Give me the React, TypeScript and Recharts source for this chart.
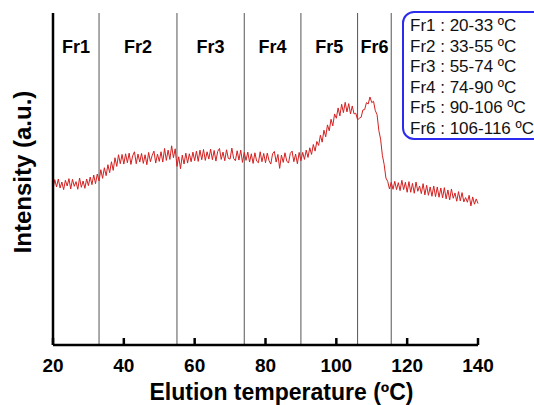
import React from "react";
import {
    LineChart,
    Line,
    XAxis,
    YAxis,
    ReferenceLine,
    ReferenceArea,
} from "recharts";

// intensity (a.u.) sampled every 0.5 ºC from 20 to 140 ºC
const intensity = [
    47.1, 49.8, 47.6, 50.0, 47.3, 49.1, 46.8, 49.6, 47.9, 50.1,
    47.0, 49.9, 47.8, 49.2, 46.9, 50.3, 47.5, 49.4, 47.2, 50.0,
    48.0, 50.6, 48.3, 51.2, 48.6, 51.5, 49.4, 52.8, 50.2, 53.4,
    51.0, 54.3, 51.9, 55.2, 52.6, 56.4, 53.8, 57.3, 54.6, 57.4,
    54.5, 57.6, 54.9, 57.8, 54.4, 57.0, 58.2, 54.6, 57.5, 55.1,
    57.7, 54.7, 57.3, 54.3, 58.0, 55.2, 57.1, 58.4, 54.8, 57.5,
    55.3, 58.2, 55.1, 59.2, 55.6, 58.7, 55.9, 60.0, 56.4, 59.1,
    53.8, 56.7, 53.1, 57.2, 54.5, 57.8, 54.8, 57.6, 55.2, 58.1,
    55.5, 58.4, 55.3, 58.7, 55.8, 58.9, 55.6, 58.2, 56.0, 59.0,
    55.8, 58.6, 55.4, 58.3, 59.2, 55.9, 58.1, 55.5, 58.8, 56.2,
    56.0, 59.3, 56.2, 55.5, 58.5, 55.7, 58.7, 55.0, 58.0, 55.6,
    58.1, 55.1, 57.6, 54.7, 57.9, 55.4, 54.9, 58.2, 55.2, 57.7,
    54.9, 57.8, 55.5, 54.5, 57.6, 58.3, 55.1, 57.4, 53.2, 57.2,
    55.0, 57.9, 55.4, 54.8, 57.7, 58.4, 55.2, 57.5, 54.6, 58.0,
    55.5, 58.0, 55.9, 58.7, 56.5, 59.4, 57.4, 60.4, 58.4, 61.3,
    60.1, 63.2, 61.1, 64.7, 62.7, 66.3, 64.5, 68.0, 66.0, 69.6,
    68.3, 71.4, 69.0, 72.5, 70.0, 73.1, 70.2, 72.7, 69.6, 72.0,
    69.6, 69.8, 67.8, 68.3, 68.6, 70.8, 70.9, 73.0, 72.6, 74.7,
    73.0, 73.4, 70.6, 69.4, 64.6, 62.0, 57.1, 54.4, 50.3, 49.3,
    47.0, 49.0, 46.9, 49.3, 46.8, 48.9, 46.5, 49.6, 46.8, 49.0,
    46.0, 49.2, 46.0, 48.7, 45.7, 49.1, 46.3, 47.9, 45.6, 48.6,
    45.2, 48.1, 45.1, 47.6, 44.8, 47.9, 44.7, 47.6, 44.5, 47.3,
    44.3, 47.4, 44.0, 46.7, 43.7, 47.0, 44.2, 45.8, 43.3, 46.2,
    43.4, 45.9, 43.1, 44.4, 43.0, 45.1, 41.9, 44.6, 42.4, 44.0,
    42.6,
];

const temps = intensity.map((_, i) => 20 + i * 0.5);

const xTicks = [20, 40, 60, 80, 100, 120, 140];

const fractions = ["Fr1", "Fr2", "Fr3", "Fr4", "Fr5", "Fr6"];
const fractionStart = [20, 33, 55, 74, 90, 106];
const fractionEnd = [33, 55, 74, 90, 106, 115.5];
const boundaries = [33, 55, 74, 90, 106, 115.5];

const legendLines = [
    "Fr1 : 20-33 ºC",
    "Fr2 : 33-55 ºC",
    "Fr3 : 55-74 ºC",
    "Fr4 : 74-90 ºC",
    "Fr5 : 90-106 ºC",
    "Fr6 : 106-116 ºC",
];

const data = intensity.map((v, i) => ({ temp: temps[i], intensity: v }));

const FONT = "'Liberation Sans', Arial, sans-serif";

const XTick = (props: any) => {
    const { x, y, payload } = props;
    return (
        <g>
            <line x1={x} y1={y} x2={x} y2={y - 7} stroke="#000" strokeWidth={2.5} />
            <text
                x={x}
                y={y + 27}
                textAnchor="middle"
                fontSize={19}
                fontWeight="bold"
                fontFamily={FONT}
                fill="#000"
            >
                {payload.value}
            </text>
        </g>
    );
};

const App = () => {
    return (
        <div
            style={{
                position: "absolute",
                left: 0,
                top: 0,
                width: 534,
                height: 405,
                background: "#fff",
                overflow: "hidden",
            }}
        >
            <LineChart
                width={534}
                height={405}
                data={data}
                margin={{ top: 13, right: 56, left: 0, bottom: 0 }}
            >
                <XAxis
                    dataKey="temp"
                    type="number"
                    domain={[20, 140]}
                    ticks={xTicks}
                    interval={0}
                    height={60}
                    tickSize={0}
                    tickMargin={0}
                    tickLine={false}
                    tick={<XTick />}
                    axisLine={{ stroke: "#000", strokeWidth: 2.5 }}
                    label={{
                        value: "Elution temperature (ºC)",
                        position: "center",
                        dx: 16,
                        dy: 17,
                        style: {
                            fontSize: 23,
                            fontWeight: "bold",
                            fontFamily: FONT,
                            fill: "#000",
                        },
                    }}
                />
                <YAxis
                    type="number"
                    domain={[0, 100]}
                    width={53}
                    tick={false}
                    tickLine={false}
                    axisLine={{ stroke: "#000", strokeWidth: 2.5 }}
                    label={{
                        value: "Intensity (a.u.)",
                        angle: -90,
                        position: "center",
                        dx: -4,
                        dy: -7,
                        style: {
                            fontSize: 24,
                            fontWeight: "bold",
                            fontFamily: FONT,
                            fill: "#000",
                        },
                    }}
                />
                {fractions.map((name, i) => (
                    <ReferenceArea
                        key={name}
                        x1={fractionStart[i]}
                        x2={fractionEnd[i]}
                        fill="none"
                        stroke="none"
                        ifOverflow="visible"
                        label={{
                            value: name,
                            position: "insideTop",
                            offset: 27,
                            style: {
                                fontSize: 18,
                                fontWeight: "bold",
                                fontFamily: FONT,
                                fill: "#000",
                            },
                        }}
                    />
                ))}
                {boundaries.map((b) => (
                    <ReferenceLine key={b} x={b} stroke="#555" strokeWidth={1} />
                ))}
                <Line
                    type="linear"
                    dataKey="intensity"
                    stroke="#d42020"
                    strokeWidth={1}
                    dot={false}
                    isAnimationActive={false}
                />
            </LineChart>
            <div
                style={{
                    position: "absolute",
                    left: 402,
                    top: 11,
                    width: 150,
                    height: 122,
                    border: "2px solid #2b2bef",
                    borderRadius: 12,
                    paddingTop: 3,
                    paddingLeft: 6,
                    boxSizing: "content-box",
                    background: "#fff",
                    fontFamily: FONT,
                    fontSize: 17,
                    lineHeight: "20.6px",
                    color: "#111",
                    whiteSpace: "nowrap",
                }}
            >
                {legendLines.map((t) => (
                    <div key={t}>{t}</div>
                ))}
            </div>
        </div>
    );
};

export default App;
